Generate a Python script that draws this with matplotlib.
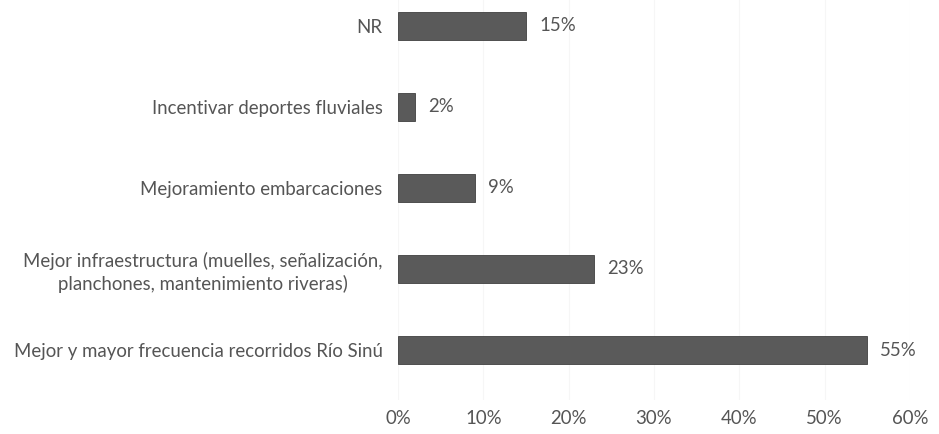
import matplotlib
matplotlib.use('Agg')
import matplotlib.pyplot as plt
from matplotlib.ticker import FuncFormatter

plt.rcParams['font.family'] = ['Lato', 'DejaVu Sans']

# categories listed bottom to top
categories = [
	'Mejor y mayor frecuencia recorridos Río Sinú',
	'Mejor infraestructura (muelles, señalización,\nplanchones, mantenimiento riveras)',
	'Mejoramiento embarcaciones',
	'Incentivar deportes fluviales',
	'NR',
]
values = [55, 23, 9, 2, 15]
x_ticks = [0, 10, 20, 30, 40, 50, 60]

text_color = '#555555'
bar_color = '#5a5a5a'
font_size = 13.4

fig = plt.figure(figsize=(9.39, 4.34), dpi=100)
axis = fig.add_axes([398/939, 1 - 400/434, 512/939, 400/434])

positions = list(range(len(categories)))
axis.barh(positions, values, height=0.34, color=bar_color, edgecolor='#404040', linewidth=0.6, zorder=2)
for y, v in zip(positions, values):
	axis.annotate(f'{v}%', (v, y), xytext=(13, 0), textcoords='offset pixels',
		ha='left', va='center', fontsize=font_size, color=text_color)

axis.set_xlim(0, 60)
axis.set_ylim(-0.617, 4.32)
axis.set_xticks(x_ticks)
axis.xaxis.set_major_formatter(FuncFormatter(lambda v, p: f'{int(v)}%'))
axis.set_yticks(positions)
axis.set_yticklabels(categories, multialignment='center', linespacing=1.3)
axis.tick_params(length=0, labelsize=font_size, labelcolor=text_color)
axis.tick_params(axis='x', pad=7)
axis.tick_params(axis='y', pad=11)
axis.grid(axis='x', color='#f6f6f6', linewidth=0.8, zorder=0)
for spine in axis.spines.values():
	spine.set_visible(False)

fig.savefig('out.png', dpi=100)
